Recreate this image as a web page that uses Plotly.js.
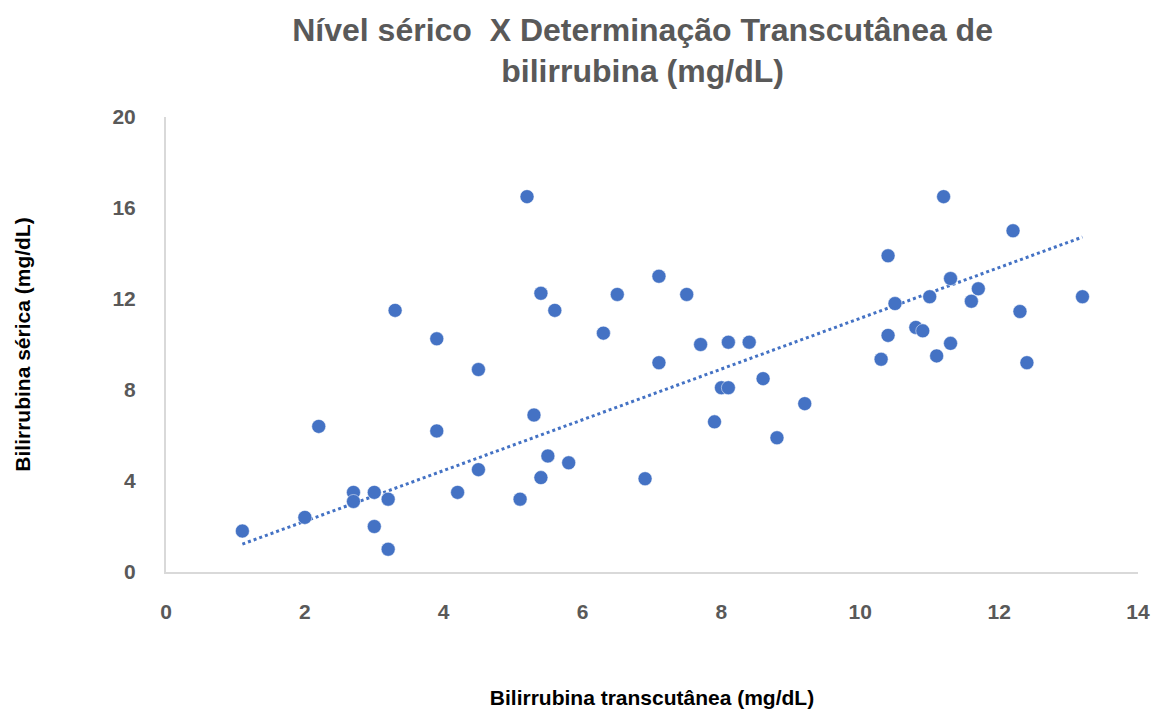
<!DOCTYPE html>
<html>
<head>
<meta charset="utf-8">
<script src="https://cdn.plot.ly/plotly-3.0.1.min.js"></script>
<style>html,body{margin:0;padding:0;background:#fff;}#chart{width:1162px;height:711px;}</style>
</head>
<body>
<div id="chart"></div>
<script>
// Transcutaneous bilirubin (mg/dL)
const transcutanea = [1.1, 2.0, 2.2, 2.7, 2.7, 3.0, 3.0, 3.2, 3.2, 3.3, 3.9, 3.9, 4.5, 4.5, 4.2,
  5.2, 5.4, 5.6, 6.5, 7.1, 7.5, 6.3, 7.7, 8.1, 8.4, 7.1, 8.6, 8.0, 8.1, 9.2, 7.9, 8.8, 5.3, 5.5, 5.8, 5.4, 5.1, 6.9,
  11.2, 12.2, 10.4, 11.3, 11.7, 11.0, 11.6, 10.5, 13.2, 12.3, 10.8, 10.9, 10.4, 11.3, 11.1, 10.3, 12.4];
// Serum bilirubin (mg/dL)
const serica = [1.8, 2.4, 6.4, 3.5, 3.1, 3.5, 2.0, 3.2, 1.0, 11.5, 10.25, 6.2, 8.9, 4.5, 3.5,
  16.5, 12.25, 11.5, 12.2, 13.0, 12.2, 10.5, 10.0, 10.1, 10.1, 9.2, 8.5, 8.1, 8.1, 7.4, 6.6, 5.9, 6.9, 5.1, 4.8, 4.15, 3.2, 4.1,
  16.5, 15.0, 13.9, 12.9, 12.45, 12.1, 11.9, 11.8, 12.1, 11.45, 10.75, 10.6, 10.4, 10.05, 9.5, 9.35, 9.2];
const xTicks = [0, 2, 4, 6, 8, 10, 12, 14];
const yTicks = [0, 4, 8, 12, 16, 20];

// Linear trendline through the origin (least squares, intercept fixed at 0)
let sxy = 0, sxx = 0;
for (let i = 0; i < transcutanea.length; i++) { sxy += transcutanea[i] * serica[i]; sxx += transcutanea[i] * transcutanea[i]; }
const slope = sxy / sxx;
const xMin = Math.min(...transcutanea), xMax = Math.max(...transcutanea);
const trendX = [xMin, xMax];
const trendY = trendX.map(v => slope * v);

const FONT = '"Liberation Sans", Arial, sans-serif';
const BLUE = '#4472C4';

const traces = [
  { x: trendX, y: trendY, type: 'scatter', mode: 'lines',
    line: { color: BLUE, width: 3, dash: 'dot' }, hoverinfo: 'skip', showlegend: false },
  { x: transcutanea, y: serica, type: 'scatter', mode: 'markers',
    marker: { color: BLUE, size: 14, line: { color: '#ffffff', width: 0.5 } }, showlegend: false }
];

const layout = {
  width: 1162, height: 711,
  paper_bgcolor: '#ffffff', plot_bgcolor: '#ffffff',
  margin: { l: 166, r: 24, t: 117, b: 139 },
  font: { family: FONT, color: '#595959' },
  title: {
    text: '<b>Nível sérico  X Determinação Transcutânea de<br>bilirrubina (mg/dL)</b>',
    x: 0.553, xanchor: 'center', y: 0.943, yanchor: 'middle',
    font: { family: FONT, size: 32, color: '#595959', lineposition: 'none' }
  },
  xaxis: {
    range: [0, 14], tickvals: xTicks, ticktext: xTicks.map(String),
    showgrid: false, zeroline: false, showline: true, linecolor: '#D9D9D9', linewidth: 2,
    ticks: '', ticklabelstandoff: 20,
    tickfont: { family: FONT, size: 21, color: '#595959', weight: 'bold' },
    title: { text: '<b>Bilirrubina transcutânea (mg/dL)</b>', standoff: 68,
      font: { family: FONT, size: 21, color: '#000000' } }
  },
  yaxis: {
    range: [0, 20], tickvals: yTicks, ticktext: yTicks.map(String),
    showgrid: false, zeroline: false, showline: true, linecolor: '#D9D9D9', linewidth: 2,
    ticks: '', ticklabelstandoff: 24,
    tickfont: { family: FONT, size: 21, color: '#595959', weight: 'bold' },
    title: { text: '<b>Bilirrubina sérica (mg/dL)</b>', standoff: 76,
      font: { family: FONT, size: 21, color: '#000000' } }
  }
};

Plotly.newPlot('chart', traces, layout, { displayModeBar: false, staticPlot: true });
</script>
</body>
</html>
